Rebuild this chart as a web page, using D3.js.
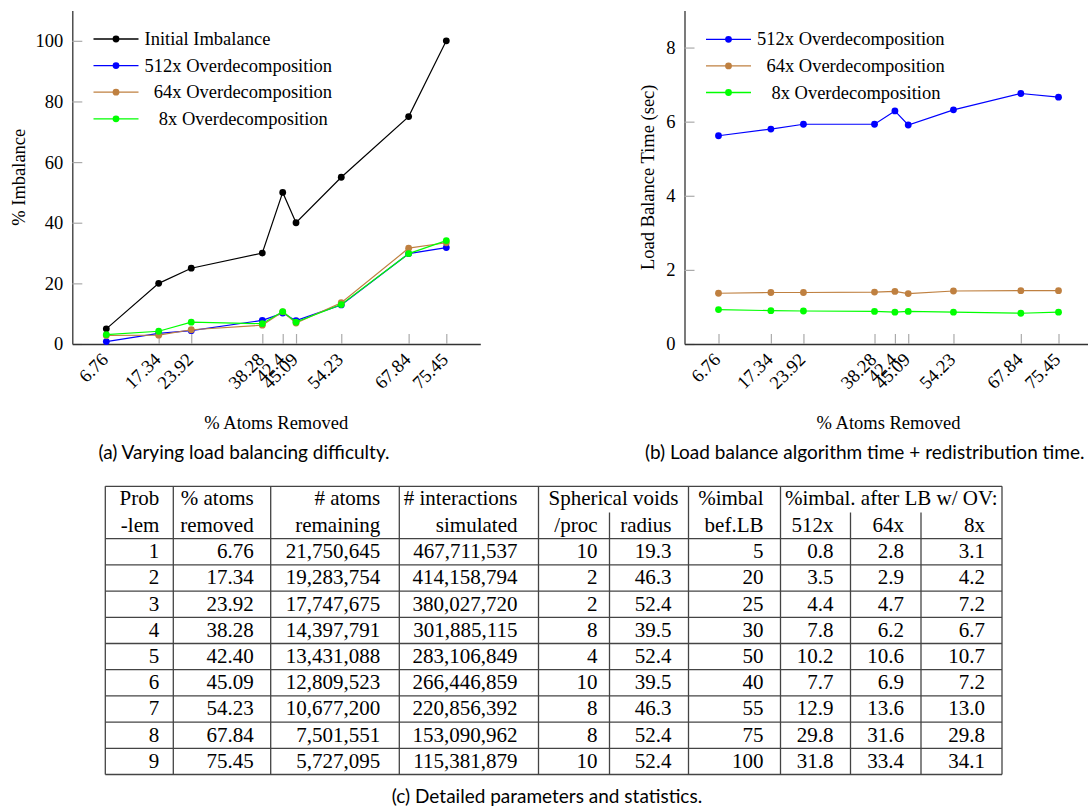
<!DOCTYPE html>
<html>
<head>
<meta charset="utf-8">
<title>Load balancing</title>
<script src="https://d3js.org/d3.v7.min.js"></script>
<style>
  body { margin: 0; background: #fff; }
  svg text { fill: #000; }
  .serif, .serif text { font-family: "Liberation Serif", "Times New Roman", serif !important; }
  .cap { font-family: "Liberation Sans Narrow", "Lato", sans-serif; font-size: 19px; }
</style>
</head>
<body>
<div id="main-svg"></div>
<script>
var removed = [6.76, 17.34, 23.92, 38.28, 42.40, 45.09, 54.23, 67.84, 75.45];
var initialImbal = [5, 20, 25, 30, 50, 40, 55, 75, 100];
var imbal512 = [0.8, 3.5, 4.4, 7.8, 10.2, 7.7, 12.9, 29.8, 31.8];
var imbal64 = [2.8, 2.9, 4.7, 6.2, 10.6, 6.9, 13.6, 31.6, 33.4];
var imbal8 = [3.1, 4.2, 7.2, 6.7, 10.7, 7.2, 13.0, 29.8, 34.1];
var lbTime512 = [5.62, 5.80, 5.93, 5.93, 6.29, 5.91, 6.32, 6.76, 6.66];
var lbTime64 = [1.37, 1.39, 1.39, 1.40, 1.42, 1.36, 1.43, 1.44, 1.44];
var lbTime8 = [0.93, 0.90, 0.89, 0.88, 0.86, 0.88, 0.86, 0.83, 0.86];
var imbalTicks = [0, 20, 40, 60, 80, 100];
var timeTicks = [0, 2, 4, 6, 8];

var problems = [1, 2, 3, 4, 5, 6, 7, 8, 9];
var atomsRemaining = ["21,750,645", "19,283,754", "17,747,675", "14,397,791", "13,431,088",
                      "12,809,523", "10,677,200", "7,501,551", "5,727,095"];
var interactions = ["467,711,537", "414,158,794", "380,027,720", "301,885,115", "283,106,849",
                    "266,446,859", "220,856,392", "153,090,962", "115,381,879"];
var voidsPerProc = [10, 2, 2, 8, 4, 10, 8, 8, 10];
var voidRadius = [19.3, 46.3, 52.4, 39.5, 52.4, 39.5, 46.3, 52.4, 52.4];

var C_BLACK = "#000", C_BLUE = "#0000ff", C_BROWN = "#bf8040", C_GREEN = "#00ff00";

var svg = d3.select("#main-svg").append("svg")
    .attr("width", 1088).attr("height", 810);

var FS = 18.5;

function drawChart(o) {
    var span = removed[removed.length - 1] - removed[0];
    var x = d3.scaleLinear()
        .domain([removed[0] - 0.1 * span, removed[removed.length - 1] + 0.1 * span])
        .range([o.left, o.left + 408]);
    var y = d3.scaleLinear().domain(o.yDomain).range([344, 10.5]);
    var g = svg.append("g").attr("class", "serif");

    // y axis
    var ya = g.append("g").attr("transform", "translate(" + o.left + ",0)")
        .call(d3.axisLeft(y).tickValues(o.yTicks).tickSize(-10).tickSizeOuter(0).tickPadding(9));
    // x axis
    var xa = g.append("g").attr("transform", "translate(0,344)")
        .call(d3.axisBottom(x).tickValues(removed).tickFormat(function (d) { return String(d); })
            .tickSize(-10).tickSizeOuter(0));
    [ya, xa].forEach(function (a) {
        a.attr("font-family", null);
        a.select(".domain").attr("stroke", "#333").attr("stroke-width", 1.3);
        a.selectAll(".tick line").attr("stroke", "#aaa").attr("stroke-width", 1.2);
        a.selectAll("text").style("font-size", FS + "px").attr("fill", "#000");
    });
    xa.selectAll(".tick text")
        .attr("x", 0).attr("y", 0).attr("dy", "0.35em")
        .attr("text-anchor", "end")
        .attr("transform", "translate(-2,12) rotate(-45)");

    // series
    var line = d3.line()
        .x(function (d, i) { return x(removed[i]); })
        .y(function (d) { return y(d); });
    o.series.forEach(function (s) {
        g.append("path").datum(s.values)
            .attr("d", line).attr("fill", "none")
            .attr("stroke", s.color).attr("stroke-width", 1.2);
        g.selectAll(null).data(s.values).enter().append("circle")
            .attr("cx", function (d, i) { return x(removed[i]); })
            .attr("cy", function (d) { return y(d); })
            .attr("r", 3.4).attr("fill", s.color);
    });

    // legend
    var lg = g.append("g");
    o.series.forEach(function (s, i) {
        var ly = o.legendY + i * 26.6;
        lg.append("line").attr("x1", o.legendX).attr("x2", o.legendX + 45)
            .attr("y1", ly).attr("y2", ly).attr("stroke", s.color).attr("stroke-width", 1.3);
        lg.append("circle").attr("cx", o.legendX + 22.5).attr("cy", ly).attr("r", 3.4).attr("fill", s.color);
        lg.append("text").attr("x", o.legendX + 51 + s.indent).attr("y", ly).attr("dy", "0.33em")
            .attr("font-size", FS).text(s.name);
    });

    // axis titles
    g.append("text")
        .attr("transform", "translate(" + o.ylabelX + "," + ((344 + 10.5) / 2) + ") rotate(-90)")
        .attr("text-anchor", "middle").attr("font-size", FS).text(o.ylabel);
    g.append("text").attr("x", o.left + 204).attr("y", 429)
        .attr("text-anchor", "middle").attr("font-size", FS).text("% Atoms Removed");
    svg.append("text").attr("class", "cap").attr("x", o.capX).attr("y", 459)
        .attr("text-anchor", "middle").text(o.caption);
}

drawChart({
    left: 72.3, yDomain: [0, 110], yTicks: imbalTicks,
    ylabel: "% Imbalance", ylabelX: 24.5,
    legendX: 93.5, legendY: 39,
    capX: 244, caption: "(a) Varying load balancing difficulty.",
    series: [
        { name: "Initial Imbalance", values: initialImbal, color: C_BLACK, indent: 0 },
        { name: "512x Overdecomposition", values: imbal512, color: C_BLUE, indent: 0 },
        { name: "64x Overdecomposition", values: imbal64, color: C_BROWN, indent: 9.3 },
        { name: "8x Overdecomposition", values: imbal8, color: C_GREEN, indent: 14.3 }
    ]
});

drawChart({
    left: 684.5, yDomain: [0, 9], yTicks: timeTicks,
    ylabel: "Load Balance Time (sec)", ylabelX: 653.5,
    legendX: 706, legendY: 39.3,
    capX: 864.7, caption: "(b) Load balance algorithm time + redistribution time.",
    series: [
        { name: "512x Overdecomposition", values: lbTime512, color: C_BLUE, indent: 0 },
        { name: "64x Overdecomposition", values: lbTime64, color: C_BROWN, indent: 9.4 },
        { name: "8x Overdecomposition", values: lbTime8, color: C_GREEN, indent: 14.4 }
    ]
});

// ---- table (c) ----
var colEdges = [105.3, 173.3, 270.7, 399.3, 538.5, 609.5, 688.5, 780.5, 850.5, 921, 1002];
var colPad = [14, 17, 19, 21, 12, 17, 17, 17, 17, 17];
var tTop = 486.3, hdrH = 26.2, rowH = 26.2;
var tBody = tTop + 2 * hdrH;
var tBottom = tBody + rowH * problems.length;

var rows = problems.map(function (p, i) {
    return [String(p), removed[i].toFixed(2), atomsRemaining[i], interactions[i],
            String(voidsPerProc[i]), voidRadius[i].toFixed(1), String(initialImbal[i]),
            imbal512[i].toFixed(1), imbal64[i].toFixed(1), imbal8[i].toFixed(1)];
});

var tg = svg.append("g").attr("class", "serif").attr("font-size", 21);
var gridColor = "#444";

// horizontal rules
var hLines = [tTop, tBody].concat(problems.map(function (p, i) { return tBody + rowH * (i + 1); }));
tg.selectAll(null).data(hLines).enter().append("line")
    .attr("x1", colEdges[0]).attr("x2", colEdges[colEdges.length - 1])
    .attr("y1", function (d) { return d; }).attr("y2", function (d) { return d; })
    .attr("stroke", gridColor).attr("stroke-width", 1.3);
// vertical rules (some start below the spanning header)
var partial = [5, 8, 9];
tg.selectAll(null).data(colEdges).enter().append("line")
    .attr("x1", function (d) { return d; }).attr("x2", function (d) { return d; })
    .attr("y1", function (d, i) { return partial.indexOf(i) >= 0 ? tTop + hdrH : tTop; })
    .attr("y2", tBottom)
    .attr("stroke", gridColor).attr("stroke-width", 1.3);

function cellX(j) { return colEdges[j + 1] - colPad[j]; }

var head1 = ["Prob", "% atoms", "# atoms", "# interactions", null, null, "%imbal", null, null, null];
var head2 = ["-lem", "removed", "remaining", "simulated", "/proc", "radius", "bef.LB", "512x", "64x", "8x"];
head1.forEach(function (t, j) {
    if (t) tg.append("text").attr("x", cellX(j)).attr("y", tTop + 19).attr("text-anchor", "end").text(t);
});
tg.append("text").attr("x", (colEdges[4] + colEdges[6]) / 2).attr("y", tTop + 19)
    .attr("text-anchor", "middle").text("Spherical voids");
tg.append("text").attr("x", (colEdges[7] + colEdges[10]) / 2).attr("y", tTop + 19)
    .attr("text-anchor", "middle").text("%imbal. after LB w/ OV:");
head2.forEach(function (t, j) {
    tg.append("text").attr("x", cellX(j)).attr("y", tTop + hdrH + 19).attr("text-anchor", "end").text(t);
});
rows.forEach(function (r, i) {
    r.forEach(function (t, j) {
        tg.append("text").attr("x", cellX(j)).attr("y", tBody + rowH * i + 19.5)
            .attr("text-anchor", "end").text(t);
    });
});

svg.append("text").attr("class", "cap").attr("x", 547).attr("y", 803)
    .attr("text-anchor", "middle").text("(c) Detailed parameters and statistics.");
</script>
</body>
</html>
